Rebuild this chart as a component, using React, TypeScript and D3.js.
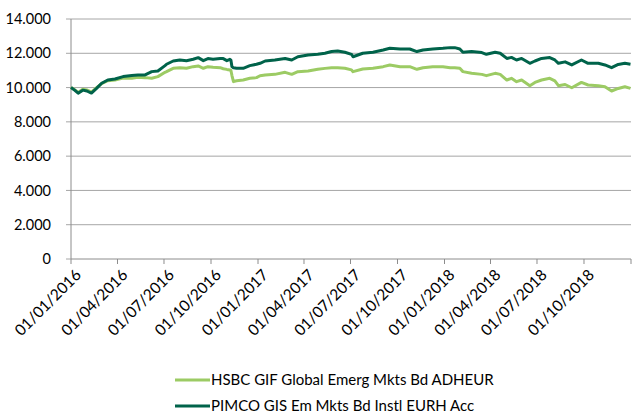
import React from "react";
import * as d3 from "d3";

const dates = [
  "2016-01-01","2016-01-08","2016-01-15","2016-01-24","2016-02-01","2016-02-10","2016-02-20","2016-03-01","2016-03-13","2016-03-27",
  "2016-04-12","2016-04-29","2016-05-11","2016-05-25","2016-06-07","2016-06-19","2016-07-03","2016-07-06","2016-07-19","2016-08-01",
  "2016-08-14","2016-08-27","2016-09-06","2016-09-16","2016-09-25","2016-10-05","2016-10-19","2016-10-25","2016-11-01","2016-11-07",
  "2016-11-09","2016-11-11","2016-11-14","2016-11-20","2016-12-03","2016-12-16","2016-12-29","2017-01-05","2017-01-15","2017-02-03",
  "2017-02-23","2017-03-08","2017-03-20","2017-04-09","2017-04-28","2017-05-12","2017-05-25","2017-06-06","2017-06-20","2017-07-03",
  "2017-07-06","2017-07-25","2017-08-14","2017-09-03","2017-09-16","2017-10-06","2017-10-25","2017-11-08","2017-11-20","2017-12-09",
  "2017-12-29","2018-01-12","2018-01-21","2018-01-31","2018-02-06","2018-02-23","2018-03-15","2018-03-24","2018-04-10","2018-04-20",
  "2018-05-03","2018-05-12","2018-05-22","2018-06-01","2018-06-17","2018-06-27","2018-07-10","2018-07-26","2018-08-05","2018-08-12",
  "2018-08-25","2018-09-07","2018-09-26","2018-10-09","2018-10-29","2018-11-11","2018-11-24","2018-12-07","2018-12-20","2018-12-31",
];

const hsbc = [
  10000,9880,9720,9900,9860,9740,10000,10230,10400,10440,
  10560,10540,10600,10580,10540,10640,10890,10930,11125,11150,
  11125,11220,11260,11125,11220,11180,11160,11100,11060,11030,
  11000,10700,10345,10400,10440,10540,10580,10690,10735,10770,
  10890,10770,10930,10970,11065,11120,11160,11160,11125,11030,
  10930,11085,11125,11220,11320,11220,11220,11065,11160,11220,
  11220,11160,11160,11125,10930,10830,10770,10695,10830,10770,
  10440,10540,10345,10440,10110,10300,10440,10540,10390,10110,
  10180,9990,10300,10150,10110,10050,9800,9950,10050,9955,
];

const pimco = [
  10000,9850,9670,9850,9800,9680,9950,10250,10440,10500,
  10640,10700,10740,10740,10930,10970,11280,11360,11550,11610,
  11570,11650,11745,11570,11690,11650,11690,11690,11570,11650,
  11600,11220,11150,11125,11125,11280,11360,11415,11550,11610,
  11700,11610,11800,11900,11940,12000,12100,12130,12060,11940,
  11800,12000,12060,12190,12290,12250,12250,12100,12190,12250,
  12290,12330,12330,12250,12060,12100,12040,11940,12060,12000,
  11700,11760,11610,11700,11415,11550,11700,11750,11610,11415,
  11500,11320,11610,11415,11415,11320,11160,11350,11415,11360,
];

const yTicks = [0, 2000, 4000, 6000, 8000, 10000, 12000, 14000];
const xTickLabels = [
  "01/01/2016","01/04/2016","01/07/2016","01/10/2016",
  "01/01/2017","01/04/2017","01/07/2017","01/10/2017",
  "01/01/2018","01/04/2018","01/07/2018","01/10/2018",
];
const seriesNames = ["HSBC GIF Global Emerg Mkts Bd ADHEUR", "PIMCO GIS Em Mkts Bd Instl EURH Acc"];

const W = 634, H = 412;
const left = 71, right = 631, top = 19, bottom = 259;
const FONT = "Lato, 'Open Sans', sans-serif";
const LIGHT = "#9ccb64";
const DARK = "#00634a";

export default function App() {
  const parse = d3.timeParse("%Y-%m-%d");
  const parseLabel = d3.timeParse("%d/%m/%Y");
  const x = d3.scaleTime().domain([parse("2016-01-01")!, parse("2019-01-01")!]).range([left, right]);
  const y = d3.scaleLinear().domain([0, 14000]).range([bottom, top]);
  const label = (v: number) => (v === 0 ? "0" : `${Math.floor(v / 1000)}.${String(v % 1000).padStart(3, "0")}`);
  const pts = dates.map((d) => parse(d)!);
  const line = d3.line<number>().x((_, i) => x(pts[i])).y((v) => y(v));
  const tickDates = [...xTickLabels.map((l) => parseLabel(l)!), parse("2019-01-01")!];

  return (
    <svg width={W} height={H} style={{ position: "absolute", left: 0, top: 0, background: "#fff" }} fontFamily={FONT}>
      {yTicks.map((t) => (
        <g key={t}>
          {t > 0 && <line x1={left} x2={right} y1={y(t)} y2={y(t)} stroke="#a6a6a6" strokeWidth={1} />}
          <line x1={left - 5} x2={left} y1={y(t)} y2={y(t)} stroke="#a6a6a6" strokeWidth={1} />
          <text x={51} y={y(t)} dy="0.35em" textAnchor="end" fontSize={14.5} fill="#000">{label(t)}</text>
        </g>
      ))}
      <line x1={left} x2={left} y1={top} y2={bottom} stroke="#8c8c8c" strokeWidth={1} />
      <line x1={left} x2={right} y1={bottom} y2={bottom} stroke="#8c8c8c" strokeWidth={1} />
      {tickDates.map((d, i) => (
        <line key={i} x1={x(d)} x2={x(d)} y1={bottom} y2={bottom + 5} stroke="#8c8c8c" strokeWidth={1} />
      ))}
      {xTickLabels.map((l, i) => {
        const tx = x(tickDates[i]) + 11;
        const ty = bottom + 17;
        return (
          <text key={l} x={tx} y={ty} transform={`rotate(-45 ${tx} ${ty})`} textAnchor="end" fontSize={15.5} fill="#000">{l}</text>
        );
      })}
      <path d={line(hsbc) ?? ""} fill="none" stroke={LIGHT} strokeWidth={3} strokeLinejoin="round" />
      <path d={line(pimco) ?? ""} fill="none" stroke={DARK} strokeWidth={3} strokeLinejoin="round" />
      {seriesNames.map((n, i) => (
        <g key={n}>
          <line x1={175} x2={210} y1={380 + i * 26} y2={380 + i * 26} stroke={i === 0 ? LIGHT : DARK} strokeWidth={3} />
          <text x={211} y={380 + i * 26} dy="0.35em" fontSize={15} fill="#000">{n}</text>
        </g>
      ))}
    </svg>
  );
}
